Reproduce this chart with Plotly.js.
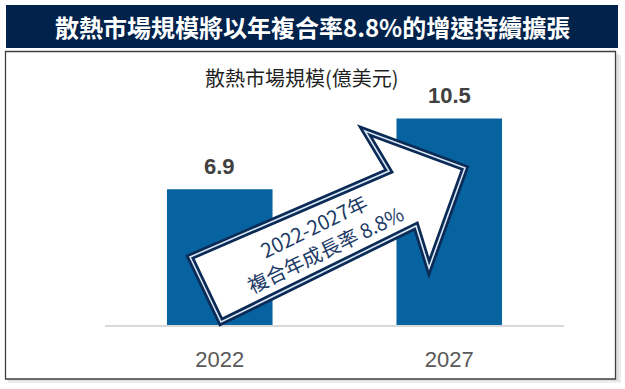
<!DOCTYPE html>
<html>
<head>
<meta charset="utf-8">
<script src="https://cdn.plot.ly/plotly-3.0.1.min.js"></script>
<style>html,body{margin:0;padding:0;background:#fff;}#chart{width:625px;height:389px;}</style>
</head>
<body>
<div id="chart"></div>
<script>
const categories = ['2022', '2027'];
const values = [6.9, 10.5];
const valueLabels = ['6.9', '10.5'];
const headerTitle = '散熱市場規模將以年複合率8.8%的增速持續擴張';
const chartTitle = '散熱市場規模(億美元)';
const arrowLines = ['2022-2027年', '複合年成長率 8.8%'];

const W = 625, H = 389;
const M = {l: 105, r: 61, t: 89, b: 64};
const PW = W - M.l - M.r, PH = H - M.t - M.b;
const px = x => (x - M.l) / PW;
const py = y => (H - M.b - y) / PH;

function pathFrom(pts) {
  return pts.map((p, i) => (i ? 'L' : 'M') + px(p[0]).toFixed(4) + ',' + py(p[1]).toFixed(4)).join(' ') + ' Z';
}
const arrowPts = [[190, 257], [221, 322], [416, 226], [429, 268], [465, 168], [365, 131], [389, 171]];
const arrowPath = pathFrom(arrowPts);

const shapes = [
  {type: 'rect', xref: 'paper', yref: 'paper', layer: 'below', x0: px(8), x1: px(621), y0: py(55), y1: py(383), fillcolor: 'rgba(0,0,0,0.07)', line: {width: 0}},
  {type: 'rect', xref: 'paper', yref: 'paper', layer: 'below', x0: px(7), x1: px(619), y0: py(53), y1: py(381), fillcolor: 'rgba(0,0,0,0.06)', line: {width: 0}},
  {type: 'rect', xref: 'paper', yref: 'paper', layer: 'below', x0: px(5.5), x1: px(615.5), y0: py(51.5), y1: py(379), fillcolor: '#ffffff', line: {color: '#404040', width: 1.3}},
  {type: 'rect', xref: 'paper', yref: 'paper', layer: 'below', x0: px(6), x1: px(618), y0: py(5), y1: py(48), fillcolor: '#00224b', line: {width: 0}},
  {type: 'path', xref: 'paper', yref: 'paper', layer: 'above', path: arrowPath, fillcolor: '#ffffff', line: {color: '#0b2a55', width: 7}},
  {type: 'path', xref: 'paper', yref: 'paper', layer: 'above', path: arrowPath, fillcolor: 'rgba(0,0,0,0)', line: {color: '#d6e6f5', width: 1.6}}
];

const annotations = [
  {xref: 'paper', yref: 'paper', x: px(312), y: py(26.5), text: headerTitle, showarrow: false, xanchor: 'center', yanchor: 'middle',
   font: {family: 'Noto Sans CJK TC, Noto Sans CJK SC, sans-serif', size: 24, color: '#ffffff', weight: 'bold'}},
  {xref: 'paper', yref: 'paper', x: px(302), y: py(78), text: chartTitle, showarrow: false, xanchor: 'center', yanchor: 'middle',
   font: {family: 'Noto Sans CJK TC, Noto Sans CJK SC, sans-serif', size: 20, color: '#1f1f1f'}},
  {xref: 'paper', yref: 'paper', x: px(319), y: py(237), text: arrowLines.join('<br>'), showarrow: false, xanchor: 'center', yanchor: 'middle',
   textangle: -26, font: {family: 'Noto Sans CJK TC, Noto Sans CJK SC, sans-serif', size: 20, color: '#1b3a66'}}
];
categories.forEach((c, i) => {
  annotations.push({x: i, y: values[i], xref: 'x', yref: 'y', text: valueLabels[i], showarrow: false, yshift: 23,
    xanchor: 'center', yanchor: 'middle', font: {family: 'Liberation Sans, Arial, sans-serif', size: 22, color: '#404040', weight: 'bold'}});
});

const trace = {
  type: 'bar', x: categories, y: values, marker: {color: '#0762a0', line: {width: 0}},
  hoverinfo: 'skip', cliponaxis: false
};

const layout = {
  width: W, height: H, margin: M, showlegend: false,
  paper_bgcolor: '#ffffff', plot_bgcolor: 'rgba(0,0,0,0)',
  bargap: 0.54,
  xaxis: {type: 'category', range: [-0.5, 1.5], showline: true, linecolor: '#d9d9d9', linewidth: 2,
    showgrid: false, zeroline: false, ticks: '', ticklabelstandoff: 14,
    tickfont: {family: 'Liberation Sans Narrow, Arial Narrow, Liberation Sans, sans-serif', size: 22, color: '#595959'}},
  yaxis: {range: [0, 12], visible: false, showgrid: false, zeroline: false},
  shapes: shapes, annotations: annotations
};

Plotly.newPlot('chart', [trace], layout, {staticPlot: true, displayModeBar: false});
</script>
</body>
</html>
